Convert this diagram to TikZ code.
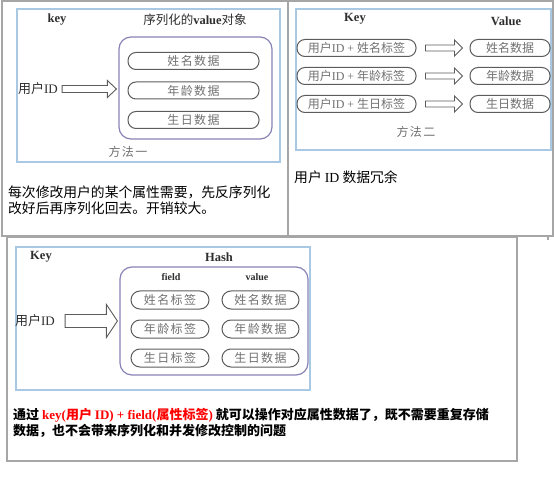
\documentclass[tikz,border=0pt]{standalone}
\usepackage{fontspec}
\setmainfont{Liberation Serif}
\newfontfamily\cjk{Noto Sans CJK SC}
\newfontfamily\cjksp[LetterSpace=12]{Noto Sans CJK SC}
\usetikzlibrary{positioning, calc}
\definecolor{tabGray}{HTML}{A6A6A6}
\definecolor{frameBlue}{HTML}{A8C8E4}
\definecolor{hashPurple}{HTML}{8783B6}
\definecolor{pillEdge}{HTML}{5C5C5C}
\definecolor{pillText}{HTML}{707070}
\definecolor{headText}{HTML}{2E2E2E}

% hollow block arrow: from, to, shaft half, head half, head length
\newcommand{\blockarrow}[5]{%
  \draw[barrow] let \p1=#1, \p2=#2 in
    (\x1,\y1+#3) -- (\x2-#5,\y1+#3) -- (\x2-#5,\y1+#4) -- (\x2,\y1)
    -- (\x2-#5,\y1-#4) -- (\x2-#5,\y1-#3) -- (\x1,\y1-#3) -- cycle;}

\begin{document}
\begin{tikzpicture}[x=1pt, y=-1pt,
    tabline/.style={draw=tabGray, line width=1.3pt},
    dgframe/.style={draw=frameBlue, line width=1.2pt},
    hashbox/.style={draw=hashPurple, line width=1.2pt, rounded corners=12pt, inner sep=0pt},
    pill/.style={draw=pillEdge, line width=1pt, rounded corners=8pt, minimum height=17pt,
                 inner sep=0pt, text=pillText, font={\fontsize{12}{14}\selectfont\cjksp}},
    headtxt/.style={font={\fontsize{12.5}{14}\selectfont\bfseries}, text=headText, inner sep=1pt},
    subtxt/.style={font={\fontsize{10}{12}\selectfont\bfseries}, text=headText, inner sep=1pt},
    waytxt/.style={font={\fontsize{12}{14}\selectfont\cjksp}, text=pillText, inner sep=1pt},
    uidtxt/.style={font={\fontsize{13}{15}\selectfont}, text=headText, inner sep=1pt},
    bodytxt/.style={font={\fontsize{13.8}{15.5}\selectfont\cjk}, anchor=west, inner sep=0pt, align=left},
    barrow/.style={draw=pillEdge, line width=0.9pt, fill=white},
]
\useasboundingbox (0,0) rectangle (554,494);

% table lines
\draw[tabline] (2,1) rectangle (553,236);
\draw[tabline] (288,1) -- (288,236);
\draw[tabline] (7,237.5) rectangle (517,461);
\draw[tabline] (548,236) -- (548,240);

% method one
\draw[dgframe] (17,9) rectangle (280,162);
\node[headtxt] (key1) at (57,20) {key};
\node[headtxt] (val1) at (195,20) {{\cjk\mdseries 序列化的}value{\cjk\mdseries 对象}};
\node[hashbox, minimum width=153pt, minimum height=102pt] (vbox1) at (195.5,88) {};
\node[pill, minimum width=131pt] (d1a) at (193.5,61) {姓名数据};
\node[pill, minimum width=131pt, below=11.5pt of d1a] (d1b) {年龄数据};
\node[pill, minimum width=131pt, below=11.5pt of d1b] (d1c) {生日数据};
\node[uidtxt] (uid1) at (38,89) {{\cjk 用户}ID};
\blockarrow{($(uid1.east)+(3pt,0)$)}{($(vbox1.west)-(2pt,0)$)}{3.5pt}{8.5pt}{9pt}
\node[waytxt] (way1) at (128,152) {方法一};
\node[bodytxt] (txt1) at (8,200.5) {每次修改用户的某个属性需要，先反序列化\\改好后再序列化回去。开销较大。};

% method two
\draw[dgframe] (296,9) rectangle (551,150);
\node[headtxt] (key2) at (355,19) {Key};
\node[headtxt] (val2) at (506,21) {Value};
\node[pill, minimum width=119pt, font={\fontsize{12}{14}\selectfont}] (k2a) at (356.5,48) {{\cjk 用户}ID + {\cjk 姓名标签}};
\node[pill, minimum width=119pt, font={\fontsize{12}{14}\selectfont}, below=10pt of k2a] (k2b) {{\cjk 用户}ID + {\cjk 年龄标签}};
\node[pill, minimum width=119pt, font={\fontsize{12}{14}\selectfont}, below=10pt of k2b] (k2c) {{\cjk 用户}ID + {\cjk 生日标签}};
\node[pill, minimum width=80pt, font={\fontsize{12}{14}\selectfont\cjk}] (v2a) at (510,48) {姓名数据};
\node[pill, minimum width=80pt, font={\fontsize{12}{14}\selectfont\cjk}, below=10pt of v2a] (v2b) {年龄数据};
\node[pill, minimum width=80pt, font={\fontsize{12}{14}\selectfont\cjk}, below=10pt of v2b] (v2c) {生日数据};
\foreach \r in {a,b,c}
  \blockarrow{($(k2\r.east)+(9pt,0)$)}{($(v2\r.west)-(7pt,0)$)}{3pt}{8pt}{8pt};
\node[waytxt] (way2) at (416,132) {方法二};
\node[bodytxt] (txt2) at (294,177) {用户 {\rmfamily ID} 数据冗余};

% method three: hash
\draw[dgframe] (16,247) rectangle (310,390);
\node[headtxt] (key3) at (41,257) {Key};
\node[headtxt] (hash3) at (219,257) {Hash};
\node[hashbox, minimum width=188pt, minimum height=108pt] (hbox3) at (214,321) {};
\node[subtxt] (fld3) at (171,277) {field};
\node[subtxt] (val3) at (257,277) {value};
\node[pill, minimum width=78pt, minimum height=18pt, rounded corners=9pt] (f3a) at (170,300) {姓名标签};
\node[pill, minimum width=78pt, minimum height=18pt, rounded corners=9pt, below=10pt of f3a] (f3b) {年龄标签};
\node[pill, minimum width=78pt, minimum height=18pt, rounded corners=9pt, below=10pt of f3b] (f3c) {生日标签};
\node[pill, minimum width=77pt, minimum height=18pt, rounded corners=9pt] (v3a) at (260.5,300) {姓名数据};
\node[pill, minimum width=77pt, minimum height=18pt, rounded corners=9pt, below=10pt of v3a] (v3b) {年龄数据};
\node[pill, minimum width=77pt, minimum height=18pt, rounded corners=9pt, below=10pt of v3b] (v3c) {生日数据};
\node[uidtxt] (uid3) at (35,321) {{\cjk 用户}ID};
\blockarrow{($(uid3.east)+(9pt,0)$)}{($(hbox3.west)-(2pt,0)$)}{6.5pt}{16.5pt}{11pt}
\node[bodytxt, font={\fontsize{13}{15.5}\selectfont\cjk\bfseries}] (txt3) at (13,423)
  {通过 \textcolor{red}{{\rmfamily key(}用户 {\rmfamily ID) + field(}属性标签{\rmfamily )}} 就可以操作对应属性数据了，既不需要重复存储\\数据，也不会带来序列化和并发修改控制的问题};
\end{tikzpicture}
\end{document}
